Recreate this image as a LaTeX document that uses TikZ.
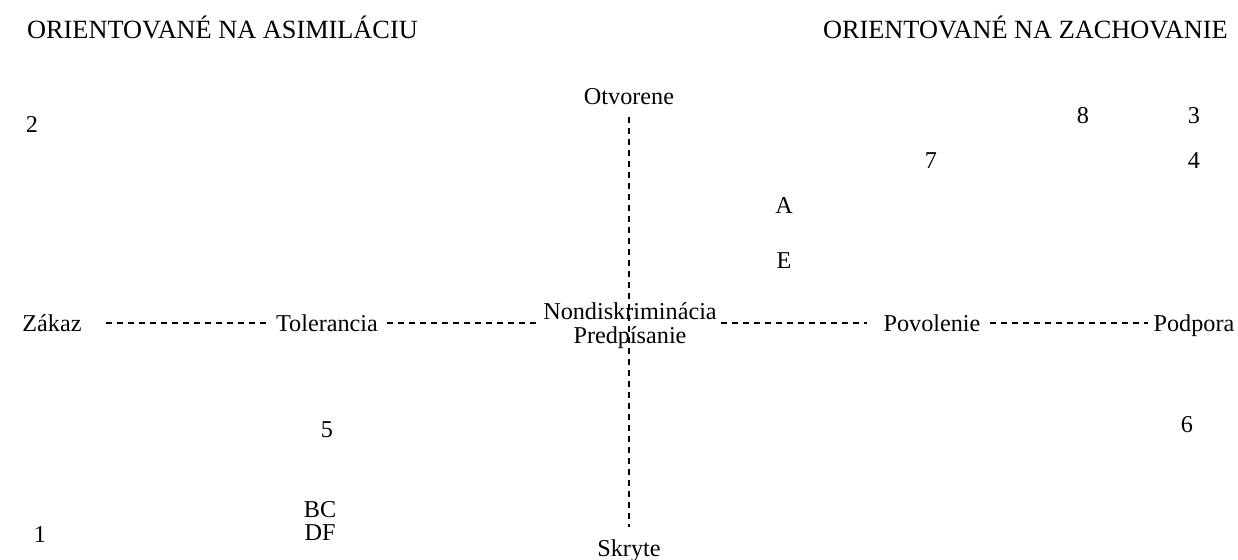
\documentclass[tikz,border=0pt]{standalone}
\usepackage{fontspec}
\setmainfont{Liberation Serif}
\begin{document}
\begin{tikzpicture}[x=1pt,y=-1pt,
  lbl/.style={inner sep=0pt, anchor=base, font=\fontsize{24.2}{29}\selectfont},
  ttl/.style={inner sep=0pt, font=\fontsize{26.3}{31}\selectfont},
  axis/.style={line width=1.4pt, dash pattern=on 6pt off 5pt}]
\useasboundingbox (0,0) rectangle (1238,559);
% titles
\node[ttl, anchor=base west] (tl) at (27,39) {ORIENTOVANÉ NA ASIMILÁCIU};
\node[ttl, anchor=base east] (tr) at (1228,39) {ORIENTOVANÉ NA ZACHOVANIE};
% axis labels
\node[lbl] (otv) at (629,105) {Otvorene};
\node[lbl] (skr) at (629,556) {Skryte};
\node[lbl] (zak) at (52,331) {Zákaz};
\node[lbl] (tol) at (327,331) {Tolerancia};
\node[lbl] (non) at (630,319) {Nondiskriminácia};
\node[lbl] (pre) at (630,343) {Predpísanie};
\node[lbl] (pov) at (932,331) {Povolenie};
\node[lbl] (pod) at (1194,331) {Podpora};
% points
\node[lbl] (n2) at (32,132) {2};
\node[lbl] (n8) at (1083,124) {8};
\node[lbl] (n3) at (1194,124) {3};
\node[lbl] (n7) at (931,168) {7};
\node[lbl] (n4) at (1194,168) {4};
\node[lbl] (pA) at (784,213) {A};
\node[lbl] (pE) at (784,268) {E};
\node[lbl] (n5) at (327,437) {5};
\node[lbl] (n6) at (1187,432) {6};
\node[lbl] (pBC) at (320,517) {BC};
\node[lbl] (pDF) at (320,540) {DF};
\node[lbl] (n1) at (40,542) {1};
% axes
\draw[axis, shorten <=12pt, shorten >=12pt] (otv.south) -- (skr.north);
\draw[axis, shorten <=24pt, shorten >=6pt] ([yshift=8pt]zak.base east) -- ([yshift=8pt]tol.base west);
\draw[axis, shorten <=9pt, shorten >=3pt] ([yshift=8pt]tol.base east) -- ([yshift=8pt]tol.base east -| non.west);
\draw[axis, shorten <=4pt, shorten >=16pt] ([yshift=8pt]tol.base east -| non.east) -- ([yshift=8pt]pov.base west);
\draw[axis, shorten <=9pt, shorten >=5pt] ([yshift=8pt]pov.base east) -- ([yshift=8pt]pod.base west);
\end{tikzpicture}
\end{document}
